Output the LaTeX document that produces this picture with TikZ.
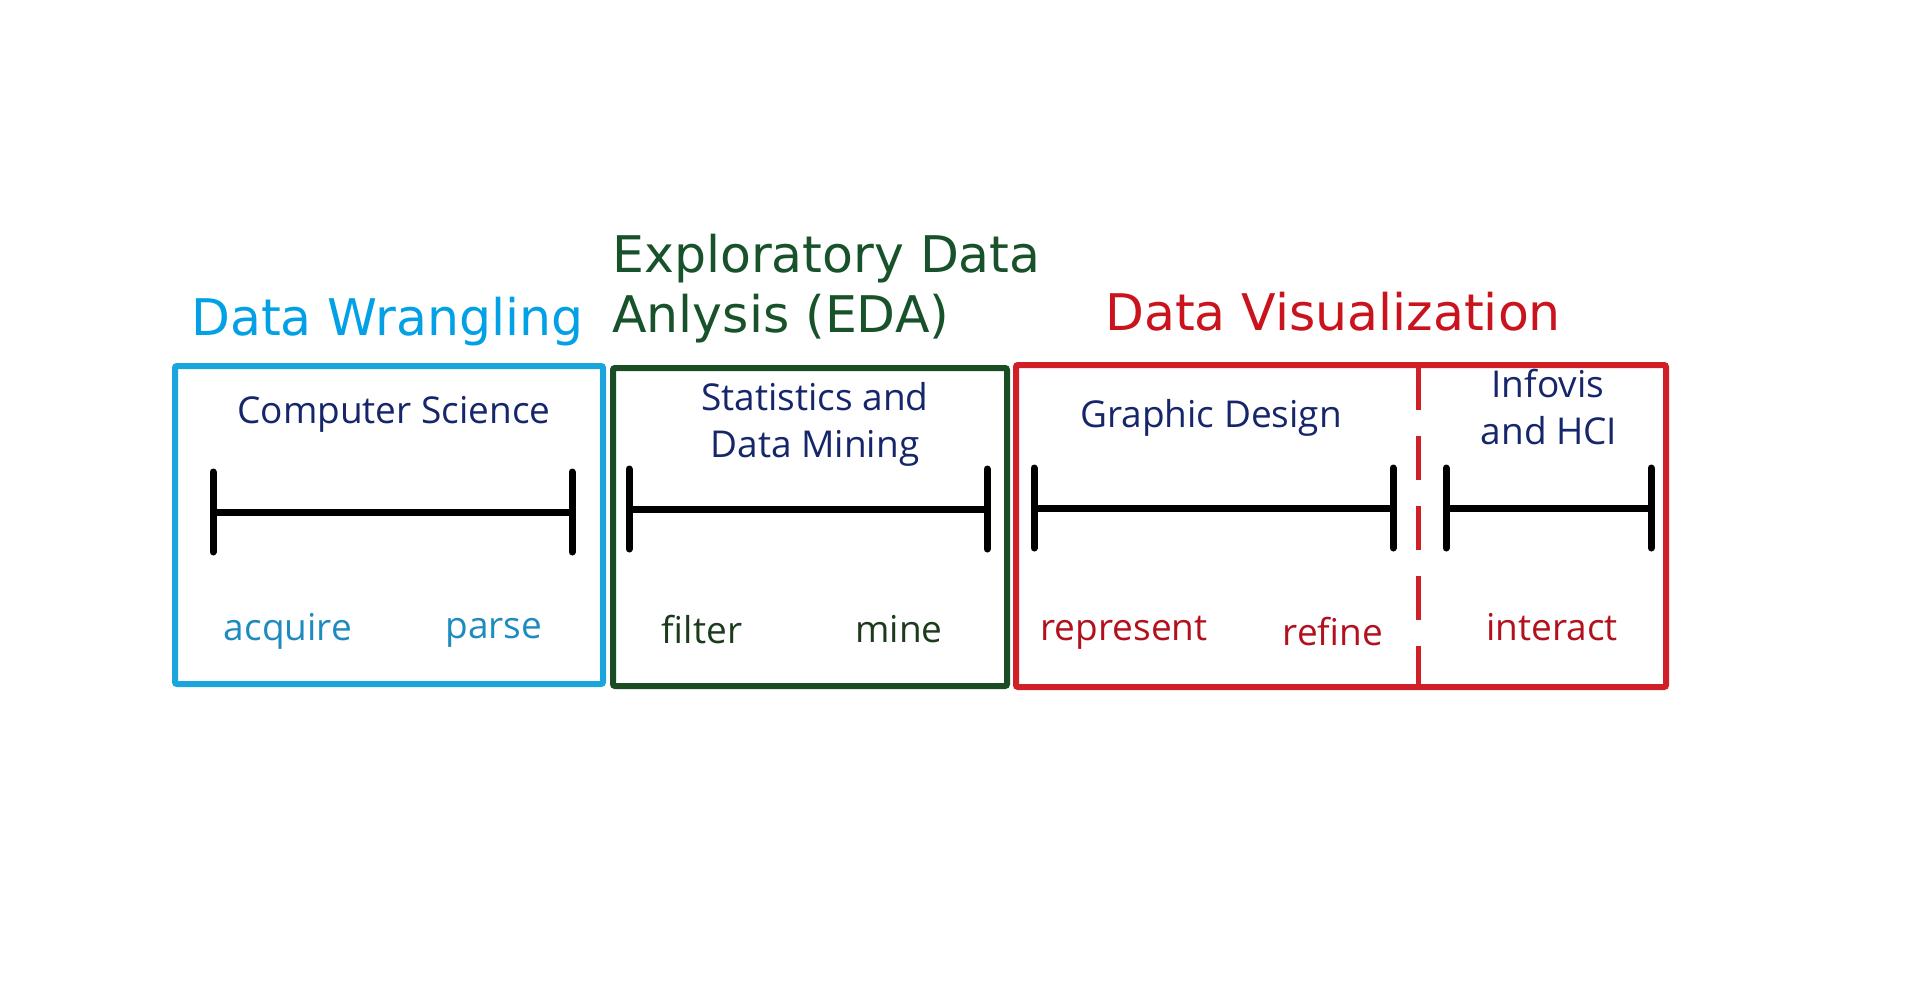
\documentclass[tikz,border=0pt]{standalone}
\usepackage{fontspec}
\setmainfont{DejaVu Sans}
\newfontfamily\innerfont{Open Sans}
\usetikzlibrary{arrows.meta}
\definecolor{dwblue}{HTML}{02A0E4}
\definecolor{dwbox}{HTML}{1AA6DC}
\definecolor{dwword}{HTML}{1E8BC0}
\definecolor{edagreen}{HTML}{17522A}
\definecolor{edabox}{HTML}{1B4D25}
\definecolor{edaword}{HTML}{1C3A1C}
\definecolor{dvred}{HTML}{C9131D}
\definecolor{dvbox}{HTML}{D11F27}
\definecolor{dvword}{HTML}{B2101C}
\definecolor{navy}{HTML}{15266A}
\begin{document}
\begin{tikzpicture}[x=1pt,y=-1pt,
  title/.style={font=\fontsize{50.5}{60}\selectfont, inner sep=0pt, anchor=base west},
  field/.style={font=\innerfont\fontsize{37}{44}\selectfont, text=navy, inner sep=0pt, anchor=base},
  word/.style={font=\innerfont\fontsize{37}{44}\selectfont, inner sep=0pt, anchor=base},
  panel/.style={draw, line width=6pt, rounded corners=2pt, inner sep=0pt},
  span/.style={line width=7pt, black, {Bar[width=80pt,round]}-{Bar[width=80pt,round]}},
]
\useasboundingbox[fill=white] (0,0) rectangle (1920,986);

% panels
\node[panel, draw=dwbox, minimum width=428pt, minimum height=318pt] (dw) at (389,525) {};
\node[panel, draw=edabox, minimum width=394pt, minimum height=318pt] (eda) at (810,527) {};
\node[panel, draw=dvbox, minimum width=650pt, minimum height=322pt] (dv) at (1341,526) {};

% divider
\coordinate (divtop) at (1418,366);
\coordinate (divbot) at (1418,686);
\draw[dvbox, line width=5pt, dash pattern=on 44pt off 26pt] (divtop) -- (divbot);

% titles
\node[title, text=dwblue] (t1) at (191,335) {Data Wrangling};
\node[title, text=edagreen] (t2a) at (612,272) {Exploratory Data};
\node[title, text=edagreen] (t2b) at (612,332) {Anlysis (EDA)};
\node[title, text=dvred] (t3) at (1105,330) {Data Visualization};

% fields
\node[field] (f1) at (394,423) {Computer Science};
\node[field] (f2a) at (815,410) {Statistics and};
\node[field] (f2b) at (815,457) {Data Mining};
\node[field] (f3) at (1211,427) {Graphic Design};
\node[field] (f4a) at (1548,397) {Infovis};
\node[field] (f4b) at (1549,444) {and HCI};

% spans
\coordinate (s1l) at (209.5,512); \coordinate (s1r) at (575.5,512);
\coordinate (s2l) at (625.5,509); \coordinate (s2r) at (990.5,509);
\coordinate (s3l) at (1030.5,508); \coordinate (s3r) at (1396.5,508);
\coordinate (s4l) at (1442.5,508); \coordinate (s4r) at (1654.5,508);
\draw[span] (s1l) -- (s1r);
\draw[span] (s2l) -- (s2r);
\draw[span] (s3l) -- (s3r);
\draw[span] (s4l) -- (s4r);

% words
\node[word, text=dwword] (w1) at (288,640) {acquire};
\node[word, text=dwword] (w2) at (494,638) {parse};
\node[word, text=edaword] (w3) at (702,643) {filter};
\node[word, text=edaword] (w4) at (899,642) {mine};
\node[word, text=dvword] (w5) at (1124,640) {represent};
\node[word, text=dvword] (w6) at (1333,645) {refine};
\node[word, text=dvword] (w7) at (1552,640) {interact};
\end{tikzpicture}
\end{document}
